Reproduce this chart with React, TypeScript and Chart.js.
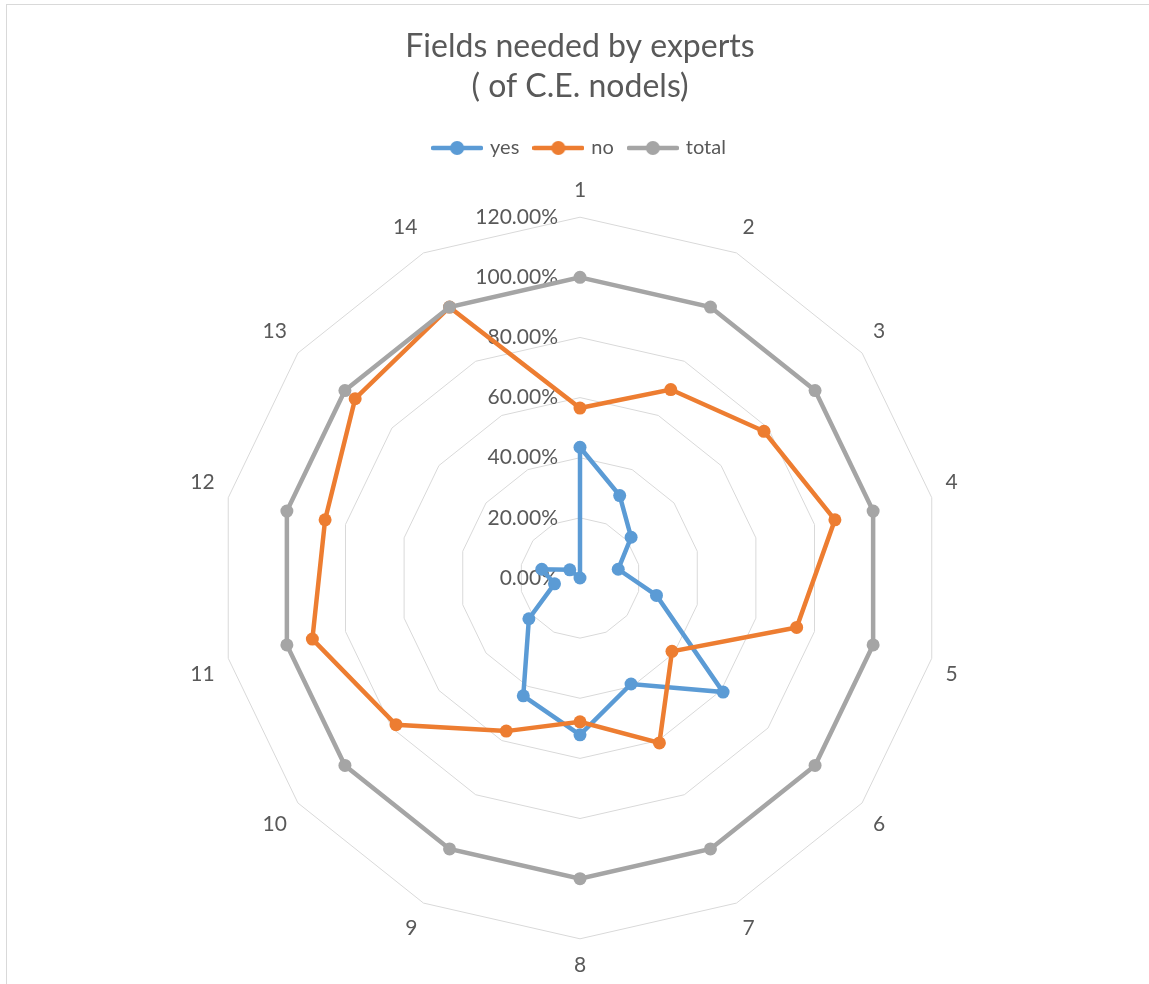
import React, { useEffect, useRef } from "react";
import { Chart, registerables } from "chart.js";

Chart.register(...registerables);

const categories = ["1", "2", "3", "4", "5", "6", "7", "8", "9", "10", "11", "12", "13", "14"];
const yesValues = [0.4348, 0.3043, 0.2174, 0.1304, 0.2609, 0.6087, 0.3913, 0.5217, 0.4348, 0.2174, 0.087, 0.1304, 0.0435, 0];
const noValues = [0.5652, 0.6957, 0.7826, 0.8696, 0.7391, 0.3913, 0.6087, 0.4783, 0.5652, 0.7826, 0.913, 0.8696, 0.9565, 1];
const totalValues = [1, 1, 1, 1, 1, 1, 1, 1, 1, 1, 1, 1, 1, 1];
const seriesNames = ["yes", "no", "total"];
const seriesColors = ["#5B9BD5", "#ED7D31", "#A5A5A5"];
const axisMin = 0;
const axisMax = 1.2;
const axisStep = 0.2;
const titleLines = ["Fields needed by experts", "( of C.E. nodels)"];

const FONT = "Lato";
const TEXT = "#595959";

const fmtPct = (v: number) => (v * 100).toFixed(2) + "%";

function legendIcon(color: string): HTMLCanvasElement {
  const c = document.createElement("canvas");
  c.width = 52;
  c.height = 16;
  const g = c.getContext("2d")!;
  g.strokeStyle = color;
  g.lineWidth = 4.5;
  g.lineCap = "round";
  g.beginPath();
  g.moveTo(2, 8);
  g.lineTo(50, 8);
  g.stroke();
  g.fillStyle = color;
  g.beginPath();
  g.arc(26, 8, 7, 0, Math.PI * 2);
  g.fill();
  return c;
}

const tickLabelPlugin = {
  id: "tickLabelsLeft",
  beforeDatasetsDraw(chart: any) {
    const s = chart.scales.r;
    const ctx = chart.ctx;
    ctx.save();
    ctx.font = `21px ${FONT}`;
    ctx.fillStyle = TEXT;
    ctx.textAlign = "right";
    ctx.textBaseline = "middle";
    s.ticks.forEach((t: any) => {
      const d = s.getDistanceFromCenterForValue(t.value);
      ctx.fillText(fmtPct(t.value), s.xCenter - 22, s.yCenter - d);
    });
    ctx.restore();
  },
};

const legendGapPlugin = {
  id: "legendGap",
  beforeInit(chart: any) {
    const legend = chart.legend;
    if (!legend) return;
    const origFit = legend.fit;
    legend.fit = function () {
      origFit.call(this);
      this.height += 11;
    };
  },
};

export default function App() {
  const ref = useRef<HTMLCanvasElement>(null);

  useEffect(() => {
    let chart: Chart | null = null;
    let cancelled = false;
    const make = () => {
      if (cancelled || !ref.current) return;
      const values = [yesValues, noValues, totalValues];
      const icons = seriesColors.map(legendIcon);
      chart = new Chart(ref.current, {
        type: "radar",
        data: {
          labels: categories,
          datasets: seriesNames.map((name, i) => ({
            label: name,
            data: values[i],
            borderColor: seriesColors[i],
            backgroundColor: seriesColors[i],
            pointBackgroundColor: seriesColors[i],
            pointBorderColor: seriesColors[i],
            pointBorderWidth: 0,
            pointRadius: 6.5,
            borderWidth: 4.5,
            fill: false,
            tension: 0,
            order: 2 - i,
          })),
        },
        options: {
          responsive: false,
          animation: false,
          layout: { padding: { left: 0, right: 4, top: 10, bottom: 16 } },
          plugins: {
            tooltip: { enabled: false },
            title: {
              display: true,
              text: titleLines,
              color: TEXT,
              font: { family: FONT, size: 32, weight: "normal", lineHeight: 1.25 },
              padding: { top: 12, bottom: 15 },
            },
            legend: {
              display: true,
              position: "top",
              labels: {
                usePointStyle: true,
                pointStyleWidth: 46,
                color: TEXT,
                font: { family: FONT, size: 20 },
                padding: 16,
                generateLabels: () =>
                  seriesNames.map((name, i) => ({
                    text: name,
                    fillStyle: seriesColors[i],
                    strokeStyle: seriesColors[i],
                    lineWidth: 0,
                    pointStyle: icons[i],
                    datasetIndex: i,
                    hidden: false,
                    fontColor: TEXT,
                  })),
              },
            },
          },
          scales: {
            r: {
              min: axisMin,
              max: axisMax,
              beginAtZero: true,
              ticks: { stepSize: axisStep, display: false },
              grid: { color: "#D9D9D9", lineWidth: 1 },
              angleLines: { display: false },
              pointLabels: {
                color: TEXT,
                font: { family: FONT, size: 21 },
                padding: 14,
              },
            },
          },
        },
        plugins: [legendGapPlugin, tickLabelPlugin],
      } as any);
    };
    const fonts: any = (document as any).fonts;
    if (fonts && fonts.load) {
      Promise.all([fonts.load(`20px ${FONT}`), fonts.load(`32px ${FONT}`)])
        .catch(() => null)
        .then(make);
    } else {
      make();
    }
    return () => {
      cancelled = true;
      if (chart) chart.destroy();
    };
  }, []);

  return (
    <div
      style={{
        position: "fixed",
        left: 6,
        top: 4,
        width: 1150,
        height: 990,
        border: "1px solid #D9D9D9",
        background: "#fff",
      }}
    >
      <canvas ref={ref} width={1150} height={990} style={{ display: "block" }} />
    </div>
  );
}
